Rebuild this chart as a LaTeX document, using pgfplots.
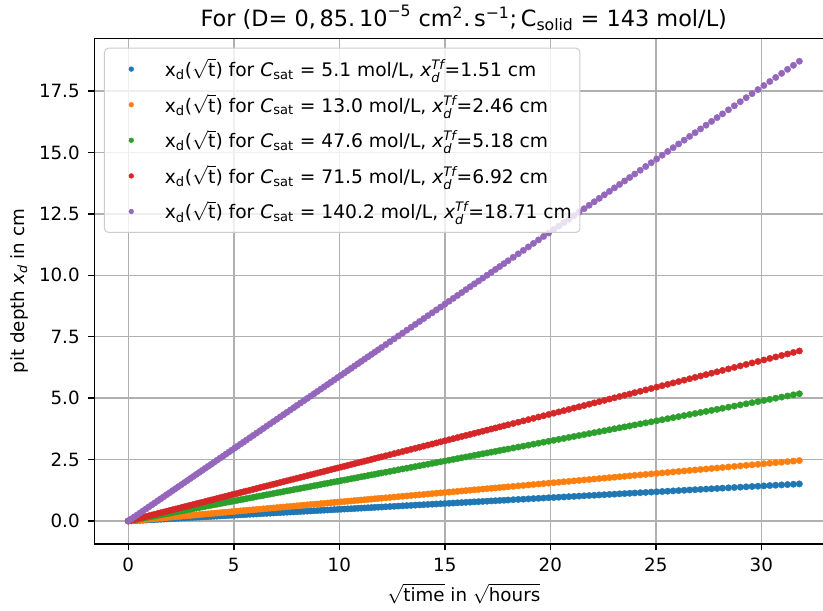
\documentclass[border=0pt]{standalone}
\usepackage{amsmath}
\usepackage{pgfplots}
\pgfplotsset{compat=1.18}
\usepackage{pgfplotstable}
\usepackage{fontspec}
\setmainfont{DejaVu Sans}
\definecolor{C0}{HTML}{1F77B4}
\definecolor{C1}{HTML}{FF7F0E}
\definecolor{C2}{HTML}{2CA02C}
\definecolor{C3}{HTML}{D62728}
\definecolor{C4}{HTML}{9467BD}
\definecolor{gridc}{HTML}{B0B0B0}
\definecolor{legc}{HTML}{CCCCCC}
\newcommand{\lgent}[2]{x\textsubscript{d}($\sqrt{\text{t}}$) for $\textit{C}_{\text{sat}}$ = #1 mol/L, $\textit{x}_{\textit{d}}^{\textit{Tf}}$=#2 cm}
\pgfplotsset{dots/.style={only marks, mark=*, mark size=2.4pt, color=#1,
  mark options={draw=#1, fill=#1, line width=0.3pt},
  legend image code/.code={\path[draw=none, fill=none] (0pt,0pt) -- (24pt,0pt);
    \draw[mark repeat=1, mark phase=1, only marks, mark=*, mark size=1.8pt, draw=#1, fill=#1, fill opacity=1, draw opacity=1] plot coordinates {(14.1pt,0pt)};}}}
\pgfplotstableread{
x a b c d e
0 0 0 0 0 0
0.14 0.007 0.011 0.023 0.030 0.082
0.28 0.013 0.022 0.046 0.061 0.165
0.42 0.020 0.032 0.068 0.091 0.247
0.56 0.027 0.043 0.091 0.122 0.329
0.70 0.033 0.054 0.114 0.152 0.412
0.84 0.040 0.065 0.137 0.183 0.494
0.98 0.047 0.076 0.160 0.213 0.577
1.12 0.053 0.087 0.182 0.244 0.659
1.26 0.060 0.097 0.205 0.274 0.741
1.40 0.066 0.108 0.228 0.305 0.824
1.54 0.073 0.119 0.251 0.335 0.906
1.68 0.080 0.130 0.274 0.366 0.988
1.82 0.086 0.141 0.296 0.396 1.071
1.96 0.093 0.152 0.319 0.427 1.153
2.10 0.100 0.162 0.342 0.457 1.236
2.24 0.106 0.173 0.365 0.487 1.318
2.38 0.113 0.184 0.388 0.518 1.400
2.52 0.120 0.195 0.410 0.548 1.483
2.66 0.126 0.206 0.433 0.579 1.565
2.80 0.133 0.217 0.456 0.609 1.647
2.94 0.140 0.227 0.479 0.640 1.730
3.08 0.146 0.238 0.502 0.670 1.812
3.22 0.153 0.249 0.525 0.701 1.895
3.36 0.160 0.260 0.547 0.731 1.977
3.50 0.166 0.271 0.570 0.762 2.059
3.64 0.173 0.282 0.593 0.792 2.142
3.78 0.179 0.292 0.616 0.823 2.224
3.92 0.186 0.303 0.639 0.853 2.306
4.06 0.193 0.314 0.661 0.883 2.389
4.20 0.199 0.325 0.684 0.914 2.471
4.34 0.206 0.336 0.707 0.944 2.553
4.48 0.213 0.347 0.730 0.975 2.636
4.62 0.219 0.357 0.753 1.005 2.718
4.76 0.226 0.368 0.775 1.036 2.801
4.90 0.233 0.379 0.798 1.066 2.883
5.04 0.239 0.390 0.821 1.097 2.965
5.18 0.246 0.401 0.844 1.127 3.048
5.32 0.253 0.412 0.867 1.158 3.130
5.46 0.259 0.422 0.889 1.188 3.212
5.60 0.266 0.433 0.912 1.219 3.295
5.76 0.274 0.446 0.938 1.253 3.389
5.92 0.281 0.458 0.964 1.288 3.483
6.08 0.289 0.470 0.990 1.323 3.577
6.24 0.296 0.483 1.016 1.358 3.671
6.40 0.304 0.495 1.043 1.393 3.766
6.56 0.311 0.507 1.069 1.428 3.860
6.72 0.319 0.520 1.095 1.462 3.954
6.88 0.327 0.532 1.121 1.497 4.048
7.04 0.334 0.545 1.147 1.532 4.142
7.20 0.342 0.557 1.173 1.567 4.236
7.36 0.349 0.569 1.199 1.602 4.330
7.52 0.357 0.582 1.225 1.636 4.425
7.68 0.365 0.594 1.251 1.671 4.519
7.84 0.372 0.606 1.277 1.706 4.613
8.00 0.380 0.619 1.303 1.741 4.707
8.16 0.387 0.631 1.329 1.776 4.801
8.32 0.395 0.644 1.355 1.811 4.895
8.48 0.403 0.656 1.381 1.845 4.989
8.64 0.410 0.668 1.407 1.880 5.083
8.80 0.418 0.681 1.433 1.915 5.178
8.96 0.425 0.693 1.460 1.950 5.272
9.12 0.433 0.706 1.486 1.985 5.366
9.28 0.441 0.718 1.512 2.019 5.460
9.44 0.448 0.730 1.538 2.054 5.554
9.60 0.456 0.743 1.564 2.089 5.648
9.76 0.463 0.755 1.590 2.124 5.742
9.92 0.471 0.767 1.616 2.159 5.837
10.08 0.479 0.780 1.642 2.194 5.931
10.24 0.486 0.792 1.668 2.228 6.025
10.40 0.494 0.805 1.694 2.263 6.119
10.56 0.501 0.817 1.720 2.298 6.213
10.72 0.509 0.829 1.746 2.333 6.307
10.88 0.517 0.842 1.772 2.368 6.401
11.04 0.524 0.854 1.798 2.402 6.496
11.20 0.532 0.866 1.824 2.437 6.590
11.36 0.539 0.879 1.850 2.472 6.684
11.52 0.547 0.891 1.877 2.507 6.778
11.68 0.555 0.904 1.903 2.542 6.872
11.84 0.562 0.916 1.929 2.577 6.966
12.00 0.570 0.928 1.955 2.611 7.060
12.2 0.579 0.944 1.987 2.655 7.178
12.4 0.589 0.959 2.020 2.698 7.296
12.6 0.598 0.975 2.052 2.742 7.413
12.8 0.608 0.990 2.085 2.785 7.531
13.0 0.617 1.006 2.118 2.829 7.649
13.2 0.627 1.021 2.150 2.872 7.766
13.4 0.636 1.037 2.183 2.916 7.884
13.6 0.646 1.052 2.215 2.959 8.002
13.8 0.655 1.068 2.248 3.003 8.119
14.0 0.665 1.083 2.281 3.047 8.237
14.2 0.674 1.098 2.313 3.090 8.355
14.4 0.684 1.114 2.346 3.134 8.472
14.6 0.693 1.129 2.378 3.177 8.590
14.8 0.703 1.145 2.411 3.221 8.708
15.0 0.712 1.160 2.443 3.264 8.825
15.2 0.722 1.176 2.476 3.308 8.943
15.4 0.731 1.191 2.509 3.351 9.061
15.6 0.741 1.207 2.541 3.395 9.178
15.8 0.750 1.222 2.574 3.438 9.296
16.0 0.760 1.238 2.606 3.482 9.414
16.2 0.769 1.253 2.639 3.525 9.532
16.4 0.779 1.269 2.671 3.569 9.649
16.6 0.788 1.284 2.704 3.612 9.767
16.8 0.798 1.300 2.737 3.656 9.885
17.0 0.807 1.315 2.769 3.699 10.002
17.2 0.817 1.331 2.802 3.743 10.120
17.4 0.826 1.346 2.834 3.786 10.238
17.6 0.836 1.362 2.867 3.830 10.355
17.8 0.845 1.377 2.900 3.873 10.473
18.0 0.855 1.392 2.932 3.917 10.591
18.24 0.866 1.411 2.971 3.969 10.732
18.48 0.878 1.430 3.010 4.021 10.873
18.72 0.889 1.448 3.049 4.074 11.014
18.96 0.900 1.467 3.088 4.126 11.155
19.20 0.912 1.485 3.128 4.178 11.297
19.44 0.923 1.504 3.167 4.230 11.438
19.68 0.934 1.522 3.206 4.283 11.579
19.92 0.946 1.541 3.245 4.335 11.720
20.16 0.957 1.560 3.284 4.387 11.861
20.40 0.969 1.578 3.323 4.439 12.003
20.64 0.980 1.597 3.362 4.491 12.144
20.88 0.991 1.615 3.401 4.544 12.285
21.12 1.003 1.634 3.440 4.596 12.426
21.36 1.014 1.652 3.479 4.648 12.567
21.60 1.026 1.671 3.518 4.700 12.709
21.84 1.037 1.689 3.558 4.753 12.850
22.08 1.048 1.708 3.597 4.805 12.991
22.32 1.060 1.727 3.636 4.857 13.132
22.56 1.071 1.745 3.675 4.909 13.274
22.80 1.083 1.764 3.714 4.962 13.415
23.04 1.094 1.782 3.753 5.014 13.556
23.28 1.105 1.801 3.792 5.066 13.697
23.52 1.117 1.819 3.831 5.118 13.838
23.76 1.128 1.838 3.870 5.170 13.980
24.00 1.140 1.857 3.909 5.223 14.121
24.26 1.152 1.877 3.952 5.279 14.274
24.52 1.164 1.897 3.994 5.336 14.427
24.78 1.177 1.917 4.036 5.392 14.580
25.04 1.189 1.937 4.079 5.449 14.733
25.30 1.201 1.957 4.121 5.506 14.886
25.56 1.214 1.977 4.164 5.562 15.039
25.82 1.226 1.997 4.206 5.619 15.192
26.08 1.238 2.017 4.248 5.675 15.345
26.34 1.251 2.038 4.291 5.732 15.498
26.60 1.263 2.058 4.333 5.788 15.651
26.86 1.275 2.078 4.375 5.845 15.803
27.12 1.288 2.098 4.418 5.902 15.956
27.38 1.300 2.118 4.460 5.958 16.109
27.64 1.312 2.138 4.502 6.015 16.262
27.90 1.325 2.158 4.545 6.071 16.415
28.16 1.337 2.178 4.587 6.128 16.568
28.44 1.350 2.200 4.633 6.189 16.733
28.72 1.364 2.222 4.678 6.250 16.898
29.00 1.377 2.243 4.724 6.311 17.063
29.28 1.390 2.265 4.770 6.372 17.227
29.56 1.404 2.287 4.815 6.433 17.392
29.84 1.417 2.308 4.861 6.493 17.557
30.12 1.430 2.330 4.906 6.554 17.722
30.40 1.444 2.352 4.952 6.615 17.886
30.68 1.457 2.373 4.998 6.676 18.051
30.96 1.470 2.395 5.043 6.737 18.216
31.24 1.483 2.417 5.089 6.798 18.381
31.52 1.497 2.438 5.134 6.859 18.545
31.80 1.510 2.460 5.180 6.920 18.710
}\data
\begin{document}
\begin{tikzpicture}
\useasboundingbox (0,0) rectangle (617.25pt,457.5pt);
\begin{axis}[
  at={(71.06pt,49.5pt)}, anchor=south west,
  scale only axis, width=553.6pt, height=379.3pt,
  xmin=-1.59, xmax=33.39, ymin=-0.9355, ymax=19.6455,
  xtick={0,5,10,15,20,25,30},
  ytick={0,2.5,5,7.5,10,12.5,15,17.5},
  y tick label style={/pgf/number format/fixed, /pgf/number format/fixed zerofill, /pgf/number format/precision=1},
  /pgf/number format/assume math mode=true,
  xtick pos=left, ytick pos=left,
  tick align=outside, major tick length=4.8pt,
  every tick/.style={black, line width=1.1pt},
  axis line style={black, line width=1.1pt},
  grid=major,
  major grid style={gridc, line width=1.1pt},
  tick label style={font=\fontsize{13.7}{16}\selectfont, black},
  xticklabel style={inner sep=0pt, anchor=north, yshift=-5.3pt},
  yticklabel style={inner sep=0pt, anchor=east, xshift=-6.3pt},
  title={For (D= 0,\,85.\,$\text{10}^{\text{−5}}$ cm$^{\text{2}}$.\,s$^{\text{−1}}$;\,C$_{\text{solid}}$ = 143 mol/L)},
  title style={at={(axis description cs:0.5,1)}, anchor=base, yshift=2.5pt, inner sep=0pt, font=\fontsize{16.8}{19}\selectfont},
  xlabel={$\sqrt{\text{time}}$ in $\sqrt{\text{hours}}$},
  xlabel style={at={(axis description cs:0.5,0)}, anchor=base, yshift=-43.3pt, inner sep=0pt, font=\fontsize{13.7}{16}\selectfont},
  ylabel={pit depth $\textit{x}_{\textit{d}}$ in cm},
  ylabel style={at={(axis description cs:-0.1026,0.5)}, anchor=center, inner sep=0pt, font=\fontsize{13.7}{16}\selectfont},
  legend cell align=left,
  legend style={at={(axis description cs:0.01253,0.9814)}, anchor=north west,
    draw=legc, line width=0.75pt, rounded corners=3pt,
    fill=white, fill opacity=0.8, text opacity=1,
    inner xsep=6pt, inner ysep=6.2pt,
    /tikz/row sep=7.7pt, /tikz/column sep=15.3pt,
    font=\fontsize{14}{16}\selectfont,
    nodes={inner sep=0pt, text height=15pt, text depth=4pt}},
]
\addplot[dots=C0] table[x=x, y=a]{\data};
\addlegendentry{\lgent{5.1}{1.51}}
\addplot[dots=C1] table[x=x, y=b]{\data};
\addlegendentry{\lgent{13.0}{2.46}}
\addplot[dots=C2] table[x=x, y=c]{\data};
\addlegendentry{\lgent{47.6}{5.18}}
\addplot[dots=C3] table[x=x, y=d]{\data};
\addlegendentry{\lgent{71.5}{6.92}}
\addplot[dots=C4] table[x=x, y=e]{\data};
\addlegendentry{\lgent{140.2}{18.71}}
\end{axis}
\end{tikzpicture}
\end{document}
